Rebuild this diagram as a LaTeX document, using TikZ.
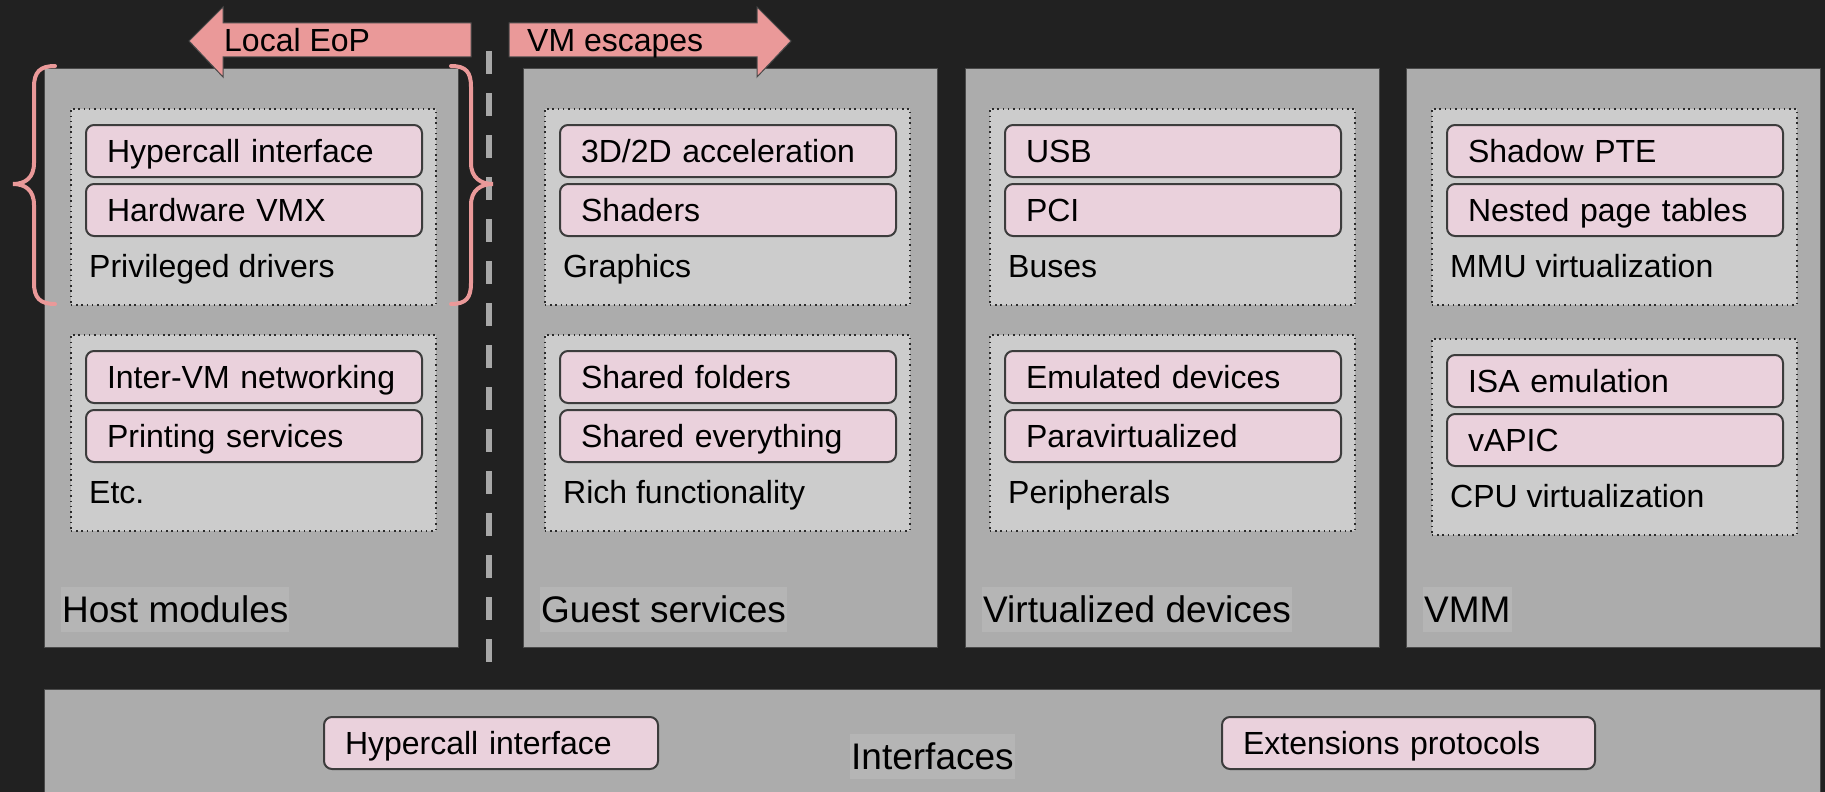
\documentclass[tikz,border=0pt]{standalone}
\usepackage{fontspec}
\setmainfont{Liberation Sans}
\definecolor{bgc}{HTML}{212121}
\definecolor{colfill}{HTML}{ACACAC}
\definecolor{colline}{HTML}{4A4A4A}
\definecolor{grpfill}{HTML}{CCCCCC}
\definecolor{dotc}{HTML}{2A2A2A}
\definecolor{pinkfill}{HTML}{EAD1DC}
\definecolor{itemline}{HTML}{3C3C3C}
\definecolor{titlefill}{HTML}{B5B5B5}
\definecolor{arrowc}{HTML}{EA9999}
\definecolor{sepc}{HTML}{A8A8A8}
\begin{document}
\begin{tikzpicture}[x=1pt,y=-1pt,
  col/.style={rectangle, draw=colline, line width=1pt, fill=colfill, anchor=north west,
    inner sep=0pt, minimum width=414pt, minimum height=579pt},
  grp/.style={rectangle, draw=dotc, line width=1.5pt, dash pattern=on 1.5pt off 3.8pt,
    fill=grpfill, anchor=north west, inner sep=0pt, minimum width=365pt, minimum height=196pt},
  item/.style={rectangle, draw=itemline, line width=2pt, rounded corners=8pt, fill=pinkfill,
    anchor=north west, minimum width=336pt, minimum height=52pt, inner xsep=21pt, inner ysep=0pt,
    text width=294pt, align=left, text height=23pt, text depth=0pt, font=\fontsize{32}{38}\selectfont},
  lbl/.style={anchor=base west, inner sep=0pt, font=\fontsize{32}{38}\selectfont},
  coltitle/.style={anchor=base west, fill=titlefill, inner xsep=1pt, inner ysep=0pt,
    text height=35pt, text depth=10pt, font=\fontsize{37}{44}\selectfont},
  bigarrow/.style={fill=arrowc, draw=colline, line width=1pt},
  brace/.style={draw=arrowc, line width=4pt, line cap=round},
  sepline/.style={draw=sepc, line width=6pt, dash pattern=on 23pt off 19pt}
]
\fill[bgc] (0,0) rectangle (1825,792);
\useasboundingbox (0,0) rectangle (1825,792);

% columns
\node[col] (host) at (44,68) {};
\node[col] (guest) at (523,68) {};
\node[col] (virt) at (965,68) {};
\node[col] (vmm) at (1406,68) {};

% top arrows (drawn over the columns)
\filldraw[bigarrow] (189,41) -- (223,7) -- (223,23) -- (471,23) -- (471,57) -- (223,57) -- (223,77) -- cycle;
\node[lbl] (eop) at (224,52) {Local EoP};
\filldraw[bigarrow] (509,23) -- (757,23) -- (757,7) -- (791,41) -- (757,77) -- (757,57) -- (509,57) -- cycle;
\node[lbl] (esc) at (527,52) {VM escapes};

% separator
\coordinate (sepTop) at (489,51);
\coordinate (sepBot) at (489,662);
\draw[sepline] (sepTop) -- (sepBot);

% Host modules
\node[grp] (hostA) at (70,108) {};
\node[item] (hostA1) at (85,124) {Hypercall interface};
\node[item] (hostA2) at (85,183) {Hardware VMX};
\node[lbl] (hostAl) at (89,277) {Privileged drivers};
\node[grp] (hostB) at (70,334) {};
\node[item] (hostB1) at (85,350) {Inter-VM networking};
\node[item] (hostB2) at (85,409) {Printing services};
\node[lbl] (hostBl) at (89,503) {Etc.};
\node[coltitle] (hostT) at (61,622) {Host modules};

% Guest services
\node[grp] (guestA) at (544,108) {};
\node[item] (guestA1) at (559,124) {3D/2D acceleration};
\node[item] (guestA2) at (559,183) {Shaders};
\node[lbl] (guestAl) at (563,277) {Graphics};
\node[grp] (guestB) at (544,334) {};
\node[item] (guestB1) at (559,350) {Shared folders};
\node[item] (guestB2) at (559,409) {Shared everything};
\node[lbl] (guestBl) at (563,503) {Rich functionality};
\node[coltitle] (guestT) at (540,622) {Guest services};

% Virtualized devices
\node[grp] (virtA) at (989,108) {};
\node[item] (virtA1) at (1004,124) {USB};
\node[item] (virtA2) at (1004,183) {PCI};
\node[lbl] (virtAl) at (1008,277) {Buses};
\node[grp] (virtB) at (989,334) {};
\node[item] (virtB1) at (1004,350) {Emulated devices};
\node[item] (virtB2) at (1004,409) {Paravirtualized};
\node[lbl] (virtBl) at (1008,503) {Peripherals};
\node[coltitle] (virtT) at (982,622) {Virtualized devices};

% VMM
\node[grp] (vmmA) at (1431,108) {};
\node[item] (vmmA1) at (1446,124) {Shadow PTE};
\node[item] (vmmA2) at (1446,183) {Nested page tables};
\node[lbl] (vmmAl) at (1450,277) {MMU virtualization};
\node[grp] (vmmB) at (1431,338) {};
\node[item] (vmmB1) at (1446,354) {ISA emulation};
\node[item] (vmmB2) at (1446,413) {vAPIC};
\node[lbl] (vmmBl) at (1450,507) {CPU virtualization};
\node[coltitle] (vmmT) at (1423,622) {VMM};

% Interfaces
\node[col, minimum width=1776pt, minimum height=130pt] (ifc) at (44,689) {};
\node[item, minimum width=334pt, text width=292pt] (ifc1) at (323,716) {Hypercall interface};
\node[item, minimum width=373pt, text width=331pt] (ifc2) at (1221,716) {Extensions protocols};
\node[coltitle] (ifcT) at (850,769) {Interfaces};

% braces
\draw[brace] (55,66) .. controls (40,66) and (34,72) .. (34,87) -- (34,163)
  .. controls (34,178) and (25,184) .. (13,184)
  .. controls (25,184) and (34,190) .. (34,205) -- (34,283)
  .. controls (34,298) and (40,304) .. (55,304);
\draw[brace] (451,66) .. controls (466,66) and (471,72) .. (471,87) -- (471,163)
  .. controls (471,178) and (481,184) .. (493,184)
  .. controls (481,184) and (471,190) .. (471,205) -- (471,283)
  .. controls (471,298) and (466,304) .. (451,304);
\end{tikzpicture}
\end{document}
